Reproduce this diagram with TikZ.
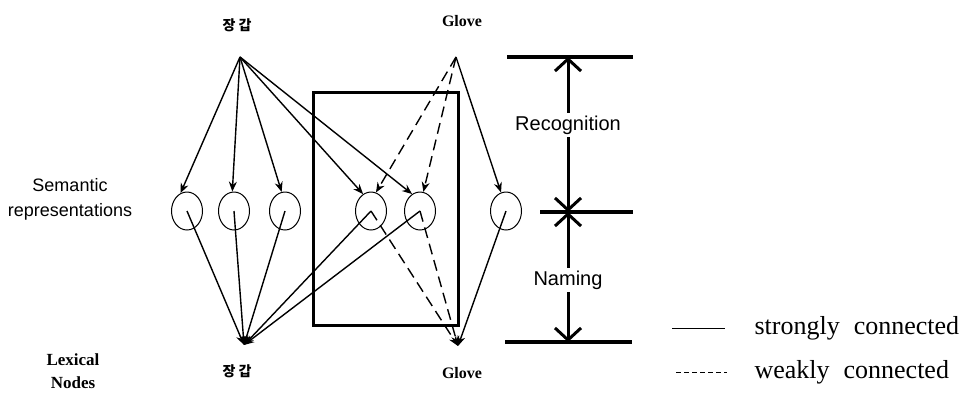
\documentclass[tikz,border=0pt]{standalone}
\usepackage{fontspec}
\setmainfont{Liberation Serif}
\setsansfont{Liberation Sans}
\newfontfamily\cjk{Noto Sans CJK KR}
\usetikzlibrary{arrows.meta,shapes.geometric}
\begin{document}
\begin{tikzpicture}[x=1pt, y=-1pt,
  sem/.style={draw, ellipse, minimum width=31pt, minimum height=38pt, inner sep=0pt, line width=1pt},
  strong/.style={-{Stealth[length=10pt,width=8pt]}, line width=1.4pt},
  weak/.style={strong, dash pattern=on 11pt off 6pt},
  bar/.style={line width=3.5pt},
  span/.style={{Straight Barb[length=12pt,width=26pt]}-{Straight Barb[length=12pt,width=26pt]}, line width=3pt},
  kword/.style={font=\cjk\bfseries\fontsize{14}{14}\selectfont},
  eword/.style={font=\bfseries\fontsize{16}{16}\selectfont},
  tag/.style={font=\sffamily\fontsize{18}{25}\selectfont, align=center},
  spanlabel/.style={font=\sffamily\fontsize{20}{20}\selectfont, fill=white, inner sep=3pt},
  legendtext/.style={font=\fontsize{26}{26}\selectfont, anchor=west}]
\useasboundingbox (0,0) rectangle (966,394);
\node[kword] (ktop) at (237,25) {장 갑};
\node[eword] (gtop) at (462,21) {Glove};
\node[kword] (kbot) at (237,371) {장 갑};
\node[eword] (gbot) at (462,373) {Glove};
\coordinate (ksrc) at (240,57);
\coordinate (gsrc) at (456,57);
\coordinate (kend) at (244,345);
\coordinate (gend) at (458,346);
\node[tag] (semtag) at (70,199) {Semantic\\representations};
\node[font=\bfseries\fontsize{17}{23}\selectfont, align=center] (lextag) at (73,371) {Lexical\\Nodes};
\node[sem] (s1) at (187,211) {};
\node[sem] (s2) at (234,211) {};
\node[sem] (s3) at (285,211) {};
\node[sem] (s4) at (371,211) {};
\node[sem] (s5) at (420,211) {};
\node[sem] (s6) at (506,211) {};
\draw[line width=3pt] (313,92) rectangle (458,325);
\draw[strong] (ksrc) -- (s1.110);
\draw[strong] (ksrc) -- (s2.95);
\draw[strong] (ksrc) -- (s3.100);
\draw[strong] (ksrc) -- (s4.115);
\draw[strong] (ksrc) -- (s5.115);
\draw[weak] (gsrc) -- (s4.75);
\draw[weak] (gsrc) -- (s5.80);
\draw[strong] (gsrc) -- (s6.105);
\draw[strong] (s1.center) -- (kend);
\draw[strong] (s2.center) -- (kend);
\draw[strong] (s3.center) -- (kend);
\draw[strong] (s4.center) -- (kend);
\draw[strong] (s5.center) -- (kend);
\draw[weak] (s4.center) -- (gend);
\draw[weak] (s5.center) -- (gend);
\draw[strong] (s6.center) -- (gend);
\coordinate (rtop) at (568,57);
\coordinate (rmid) at (568,212);
\coordinate (rbot) at (568,342);
\draw[bar] (507,57) -- (633,57);
\draw[bar] (540,212) -- (633,212);
\draw[bar] (505,342) -- (632,342);
\draw[span] (rtop) -- (rmid);
\draw[span] (rmid) -- (rbot);
\node[spanlabel] (recog) at (568,125) {Recognition};
\node[spanlabel] (naming) at (568,280) {Naming};
\coordinate (ls1) at (672,328);
\coordinate (ls2) at (725,328);
\coordinate (lw1) at (676,372);
\coordinate (lw2) at (727,372);
\draw[line width=0.8pt] (ls1) -- (ls2);
\draw[line width=0.8pt, dash pattern=on 5pt off 3pt] (lw1) -- (lw2);
\node[legendtext] (strongtxt) at (751,328) {strongly\hspace{14pt}connected};
\node[legendtext] (weaktxt) at (751,372) {weakly\hspace{14pt}connected};
\end{tikzpicture}
\end{document}
